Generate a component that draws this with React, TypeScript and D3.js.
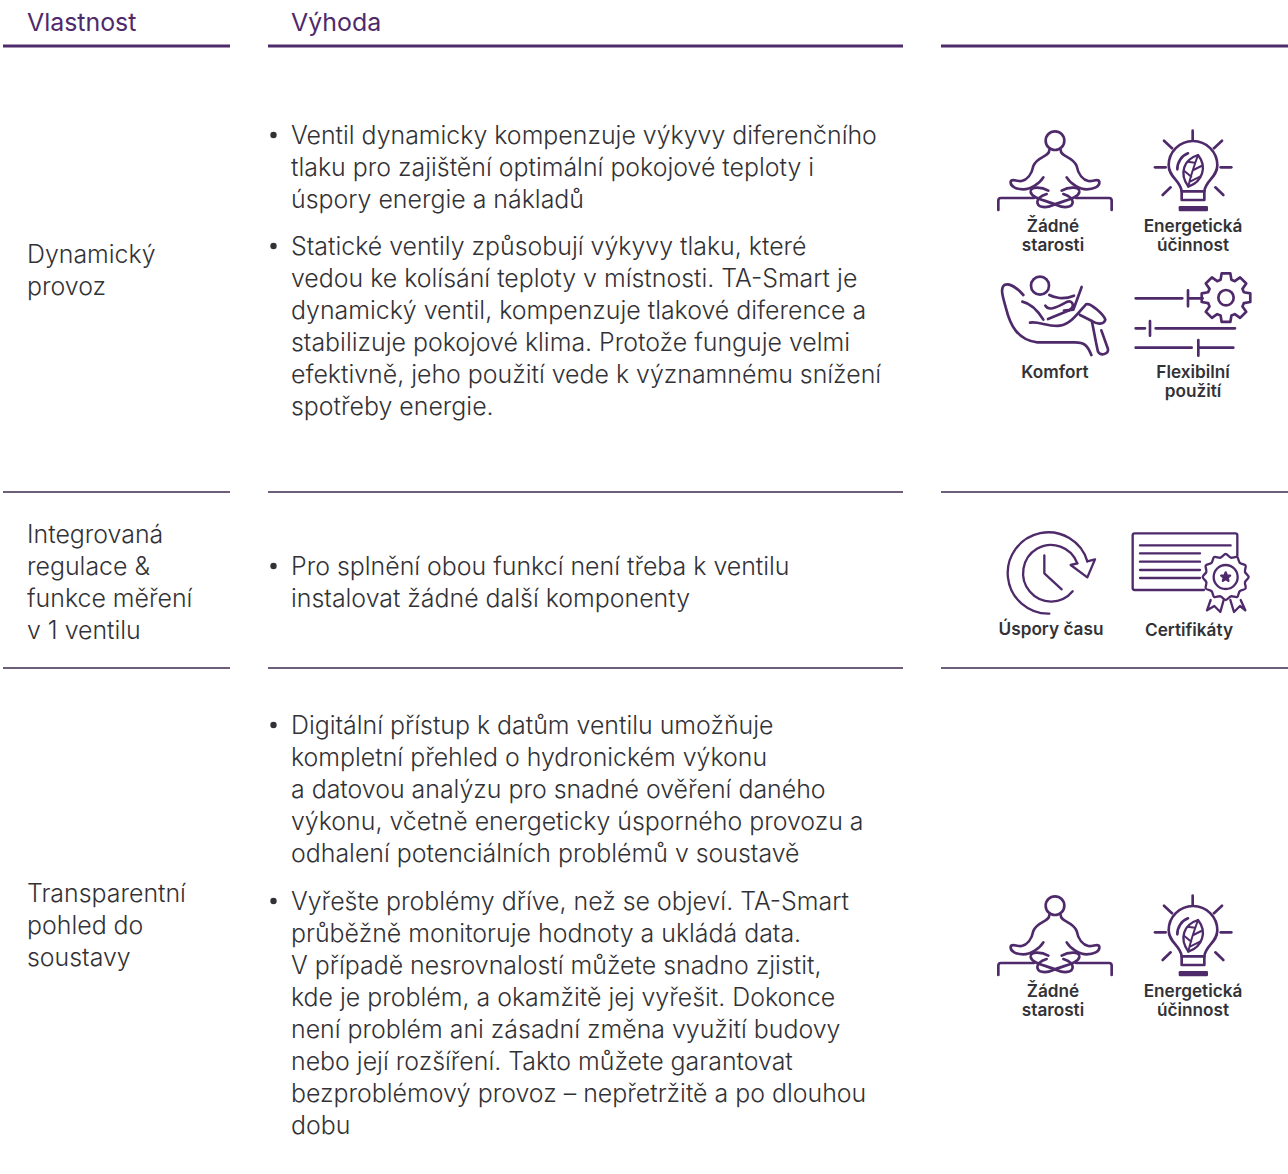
import React from "react";
import * as d3 from "d3";

const PURPLE = "#4f2a6b";
const INK = "#323236";
const FONT = "Inter, 'Noto Sans', sans-serif";

const headers = ["Vlastnost", "Výhoda"];
const headerRules = [[3, 230], [268, 903], [941, 1288]];
const rowRuleYs = [492, 668];

const featureLines = [
  { baseline: 263, lines: ["Dynamický", "provoz"] },
  { baseline: 543, lines: ["Integrovaná", "regulace &", "funkce měření", "v 1 ventilu"] },
  { baseline: 902, lines: ["Transparentní", "pohled do", "soustavy"] },
];

const benefitParagraphs = [
  { baseline: 144, lines: ["Ventil dynamicky kompenzuje výkyvy diferenčního", "tlaku pro zajištění optimální pokojové teploty i", "úspory energie a nákladů"] },
  { baseline: 255, lines: ["Statické ventily způsobují výkyvy tlaku, které", "vedou ke kolísání teploty v místnosti. TA-Smart je", "dynamický ventil, kompenzuje tlakové diference a", "stabilizuje pokojové klima. Protože funguje velmi", "efektivně, jeho použití vede k významnému snížení", "spotřeby energie."] },
  { baseline: 575, lines: ["Pro splnění obou funkcí není třeba k ventilu", "instalovat žádné další komponenty"] },
  { baseline: 734, lines: ["Digitální přístup k datům ventilu umožňuje", "kompletní přehled o hydronickém výkonu", "a datovou analýzu pro snadné ověření daného", "výkonu, včetně energeticky úsporného provozu a", "odhalení potenciálních problémů v soustavě"] },
  { baseline: 910, lines: ["Vyřešte problémy dříve, než se objeví. TA-Smart", "průběžně monitoruje hodnoty a ukládá data.", "V případě nesrovnalostí můžete snadno zjistit,", "kde je problém, a okamžitě jej vyřešit. Dokonce", "není problém ani zásadní změna využití budovy", "nebo její rozšíření. Takto můžete garantovat", "bezproblémový provoz – nepřetržitě a po dlouhou", "dobu"] },
];

const iconLabels = [
  { x: 1053, y: 232, lines: ["Žádné", "starosti"] },
  { x: 1193, y: 232, lines: ["Energetická", "účinnost"] },
  { x: 1055, y: 378, lines: ["Komfort"] },
  { x: 1193, y: 378, lines: ["Flexibilní", "použití"] },
  { x: 1051, y: 635, lines: ["Úspory času"] },
  { x: 1189, y: 636, lines: ["Certifikáty"] },
  { x: 1053, y: 997, lines: ["Žádné", "starosti"] },
  { x: 1193, y: 997, lines: ["Energetická", "účinnost"] },
];

const lineStep = d3.scaleLinear().domain([0, 1]).range([0, 32]);
const labelStep = d3.scaleLinear().domain([0, 1]).range([0, 19]);

const iconProps = { fill: "none", stroke: PURPLE, strokeWidth: 8, strokeLinecap: "round" as const, strokeLinejoin: "round" as const };

function Meditator({ x, y }: { x: number; y: number }) {
  return (
    <g transform={`translate(${x},${y}) scale(${1 / 3})`} {...iconProps}>
      <circle cx={225} cy={62} r={28} />
      <path d="M208,90 C208,112 172,108 160,138 C155,165 140,180 125,183 C110,185 95,174 92,185 C90,200 110,208 130,208 C150,208 178,192 190,172" />
      <path d="M242,90 C242,112 278,108 290,138 C295,165 310,180 325,183 C340,185 355,174 358,185 C360,200 340,208 320,208 C300,208 272,192 260,172" />
      <path d="M205,212 C185,200 150,198 152,216 C155,235 195,240 232,256 C250,264 278,264 278,246 C278,234 262,226 250,222" />
      <path d="M245,212 C265,200 300,198 298,216 C295,235 255,240 218,256 C200,264 172,264 172,246 C172,234 188,226 200,222" />
      <path d="M55,270 V242 Q55,234 63,234 H162 M288,234 H387 Q395,234 395,242 V270" />
    </g>
  );
}

function Bulb({ x, y }: { x: number; y: number }) {
  const rays = ["M638,32V60", "M552,62L576,85", "M726,62L702,85", "M525,142H557", "M722,142H754", "M548,225L572,202", "M730,225L706,202"];
  return (
    <g transform={`translate(${x},${y}) scale(${1 / 3})`} {...iconProps}>
      {rays.map((d) => <path key={d} d={d} />)}
      <path d="M605,214 C602,182 566,172 566,136 A73,73 0 0 1 712,136 C712,172 676,182 673,214" />
      <path d="M605,214 H673 V240 H605 Z" />
      <path d="M600,262 H680 V270 H600 Z" />
      <path d="M592,148 A50,50 0 0 1 624,100" />
      <path d="M654,105 C612,118 596,160 625,200 C668,186 682,140 654,105 Z" strokeWidth={7} />
      <path d="M625,200 C632,165 642,140 654,105 M634,170 L612,152 M640,150 L664,138 M630,185 L660,170 M645,128 L622,125" strokeWidth={6} />
    </g>
  );
}

function Lounger({ x, y }: { x: number; y: number }) {
  return (
    <g transform={`translate(${x},${y}) scale(${1 / 3})`} {...iconProps}>
      <circle cx={180} cy={62} r={27} />
      <path d="M130,90 C112,70 88,52 73,60 C60,70 68,95 78,130 C90,178 112,226 172,232 L285,232 C312,232 322,240 334,270" />
      <path d="M127,110 C150,115 172,135 190,164" />
      <path d="M150,173 C175,168 205,186 240,182 C272,178 296,142 318,118 C332,112 372,150 376,164 C372,180 350,178 336,168 L300,150" />
      <path d="M336,170 C342,200 348,235 354,260 C362,274 386,268 384,252 L364,196" />
      <path d="M208,90 C222,98 250,105 282,92" />
      <path d="M305,66 L280,134 L252,137" />
      <path d="M196,122 C205,138 225,130 258,112 C276,104 288,120 268,136 L204,162" />
    </g>
  );
}

function Sliders({ x, y }: { x: number; y: number }) {
  const cx = 738, cy = 98;
  const radii = [74, 74, 56, 56];
  const teeth = d3.range(8).flatMap((i) => {
    const a = (i * 2 * Math.PI) / 8;
    const w = Math.PI / 8;
    return [a - w * 0.45, a + w * 0.45, a + w * 0.75, a + w * 1.25].map((t, k) => [t, radii[k]] as [number, number]);
  });
  const gear = d3.lineRadial().curve(d3.curveLinearClosed)(teeth) || "";
  return (
    <g transform={`translate(${x},${y}) scale(${1 / 3})`} {...iconProps}>
      <path d="M467,100 H607 M624,76 V124 M624,100 H668" />
      <path transform={`translate(${cx},${cy})`} d={gear} />
      <circle cx={cx} cy={cy} r={23} />
      <path d="M467,190 H495 M510,168 V212 M527,190 H765" />
      <path d="M467,248 H635 M655,225 V272 M655,248 H760" />
    </g>
  );
}

function ClockIcon({ x, y }: { x: number; y: number }) {
  return (
    <g transform={`translate(${x},${y}) scale(${1 / 3})`} {...iconProps} strokeWidth={7}>
      <path d="M208,281 A122,122 0 1 1 322,124" />
      <path d="M278,214 A84,85 0 1 1 292,130" />
      <path d="M292,130 L272,135 L322,172 L345,118 L322,124" />
      <path d="M193,106 V160 L245,208" />
    </g>
  );
}

function CertIcon({ x, y }: { x: number; y: number }) {
  const cx = 737, cy = 171;
  const seal = d3.lineRadial().curve(d3.curveCardinalClosed)(
    d3.range(24).map((i) => [(i * 2 * Math.PI) / 24, i % 2 ? 60 : 69] as [number, number])
  ) || "";
  const star = d3.lineRadial().curve(d3.curveLinearClosed)(
    d3.range(10).map((i) => [(i * 2 * Math.PI) / 10, i % 2 ? 6 : 14] as [number, number])
  ) || "";
  return (
    <g transform={`translate(${x},${y}) scale(${1 / 3})`} {...iconProps} strokeWidth={7}>
      <path d="M772,108 V46 Q772,40 766,40 H464 Q458,40 458,46 V204 Q458,210 464,210 H672" />
      <path d="M480,76 H752 M480,100 H660 M480,125 H660 M480,150 H660 M480,174 H660" />
      <path transform={`translate(${cx},${cy})`} d={seal} />
      <circle cx={cx} cy={cy} r={36} />
      <path transform={`translate(${cx},${cy})`} d={star} fill={PURPLE} />
      <path d="M692,240 L681,271 L703,258 L721,276 L731,240" />
      <path d="M751,240 L762,276 L780,258 L796,271 L782,240" />
    </g>
  );
}

export default function App() {
  return (
    <svg width={1288} height={1174} style={{ position: "absolute", left: 0, top: 0, background: "#fff" }} fontFamily={FONT}>
      <text x={27} y={31} fontSize={24.9} fontWeight={400} fill={PURPLE}>{headers[0]}</text>
      <text x={291} y={31} fontSize={24.9} fontWeight={400} fill={PURPLE}>{headers[1]}</text>
      {headerRules.map(([a, b]) => <line key={a} x1={a} x2={b} y1={46} y2={46} stroke={PURPLE} strokeWidth={3} />)}
      {rowRuleYs.map((y) => headerRules.map(([a, b]) => <line key={`${y}-${a}`} x1={a} x2={b} y1={y} y2={y} stroke="#3d2a4d" strokeWidth={1.5} />))}

      {featureLines.map((f) => f.lines.map((t, i) => (
        <text key={t} x={27} y={f.baseline + lineStep(i)} fontSize={24.9} fontWeight={300} fill={INK}>{t}</text>
      )))}

      {benefitParagraphs.map((p) => (
        <g key={p.baseline}>
          <circle cx={273.5} cy={p.baseline - 9} r={3.2} fill={INK} />
          {p.lines.map((t, i) => (
            <text key={t} x={291} y={p.baseline + lineStep(i)} fontSize={24.9} fontWeight={300} fill={INK}>{t}</text>
          ))}
        </g>
      ))}

      <Meditator x={980} y={120} />
      <Bulb x={980} y={120} />
      <Lounger x={980} y={265} />
      <Sliders x={980} y={265} />
      <ClockIcon x={980} y={520} />
      <CertIcon x={980} y={520} />
      <Meditator x={980} y={885} />
      <Bulb x={980} y={885} />

      {iconLabels.map((l) => l.lines.map((t, i) => (
        <text key={`${l.x}-${l.y}-${t}`} x={l.x} y={l.y + labelStep(i)} textAnchor="middle" fontSize={17.2} fontWeight={600} fill={INK}>{t}</text>
      )))}
    </svg>
  );
}
